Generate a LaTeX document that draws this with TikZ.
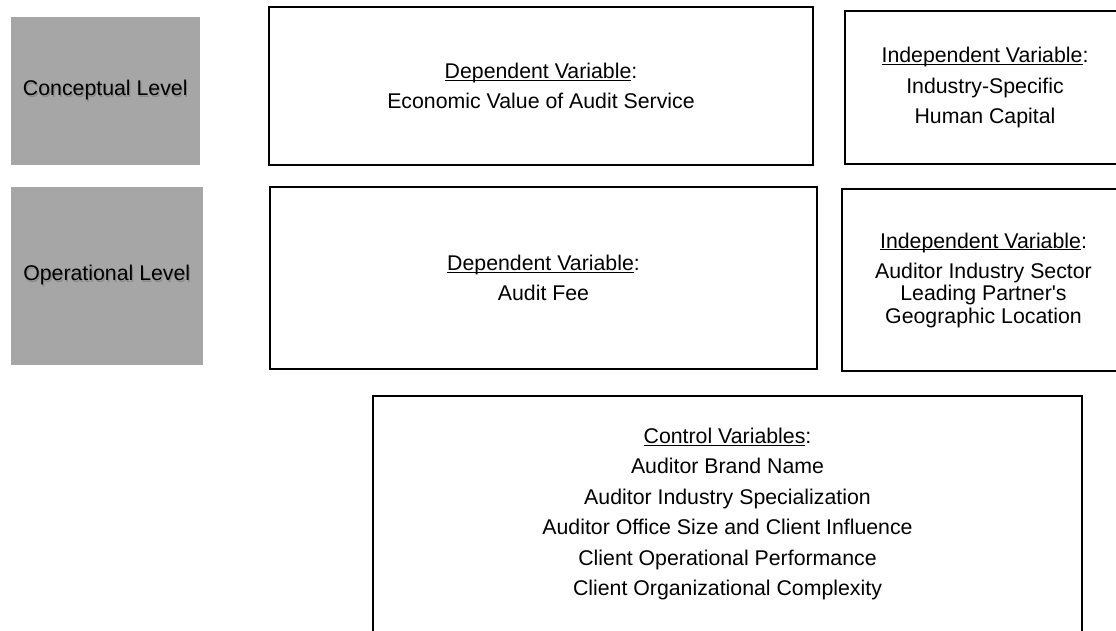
\documentclass[tikz,border=0pt]{standalone}
\usepackage{fontspec}
\setmainfont{Liberation Sans}
\definecolor{lvlgray}{RGB}{166,166,166}
\newcommand\varhead[1]{\underline{\smash{#1}}\vphantom{#1}:}
\newcommand\lvltext[1]{\makebox[0pt][l]{\raisebox{-1.2pt}{\hspace{1.2pt}\textcolor{black!45}{#1}}}#1}
\begin{document}
\begin{tikzpicture}[x=1pt,y=-1pt,
                    lvlbox/.style={fill=lvlgray,draw=none,inner sep=0pt,font=\fontsize{21.3}{30}\selectfont},
                    varbox/.style={draw=black,line width=2pt,inner sep=0pt,align=center,font=\fontsize{21.3}{30}\selectfont}]
\useasboundingbox (0,0) rectangle (1116,631);
\node[lvlbox,minimum width=189.5,minimum height=148] (concept) at (105.25,91) {\lvltext{Conceptual Level}};
\node[lvlbox,minimum width=192.5,minimum height=178] (oper) at (106.75,276) {\lvltext{Operational Level}};
\node[varbox,minimum width=544,minimum height=158,font=\fontsize{21.3}{29.5}\selectfont] (depconc) at (541,86)
  {\varhead{Dependent Variable}\\Economic Value of Audit Service};
\node[varbox,minimum width=280,minimum height=153,font=\fontsize{21.3}{30.5}\selectfont] (indconc) at (985,87.5)
  {\varhead{Independent Variable}\\Industry-Specific\\Human Capital};
\node[varbox,minimum width=547,minimum height=182] (depoper) at (543.5,278)
  {\varhead{Dependent Variable}\\Audit Fee};
\node[varbox,minimum width=283,minimum height=182,font=\fontsize{21.3}{22.5}\selectfont] (indoper) at (983.5,280)
  {\varhead{Independent Variable}\\[7.5pt]Auditor Industry Sector\\Leading Partner\textquotesingle s\\Geographic Location};
\node[varbox,minimum width=709,minimum height=236,font=\fontsize{21.3}{30.4}\selectfont] (control) at (727.5,514)
  {\varhead{Control Variables}\\Auditor Brand Name\\Auditor Industry Specialization\\Auditor Office Size and Client Influence\\Client Operational Performance\\Client Organizational Complexity};
\end{tikzpicture}
\end{document}
